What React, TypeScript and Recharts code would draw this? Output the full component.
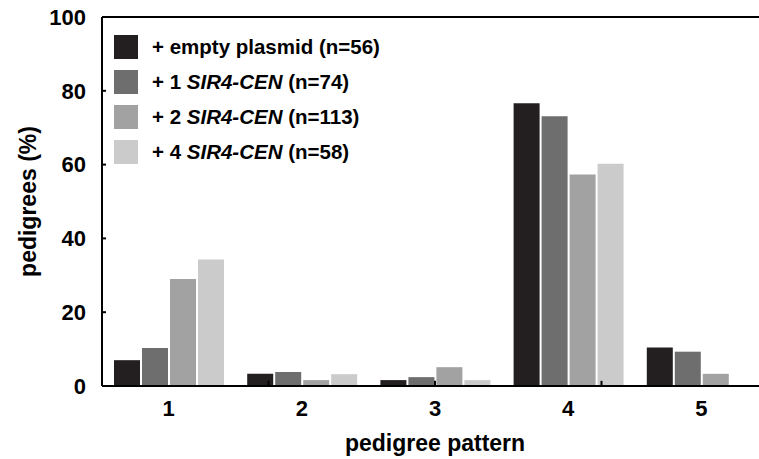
import {
  BarChart,
  Bar,
  XAxis,
  YAxis,
  Legend,
  ReferenceLine,
} from "recharts";

const patterns = ["1", "2", "3", "4", "5"];
const emptyPlasmid = [7.0, 3.3, 1.6, 76.6, 10.4];
const oneSir4 = [10.3, 3.8, 2.4, 73.1, 9.3];
const twoSir4 = [29.0, 1.6, 5.1, 57.3, 3.3];
const fourSir4 = [34.3, 3.2, 1.6, 60.2, null];
const yTicks = [0, 20, 40, 60, 80, 100];
// small inward marks sit between the pattern groups
const boundaryTicks = [1, 2, 3, 4];
const boundaryTickLen = 1.4;

const series = [
  { key: "empty", prefix: "+ empty plasmid", gene: "", n: 56, color: "#231f20" },
  { key: "one", prefix: "+ 1 ", gene: "SIR4-CEN", n: 74, color: "#6e6e6e" },
  { key: "two", prefix: "+ 2 ", gene: "SIR4-CEN", n: 113, color: "#a2a2a2" },
  { key: "four", prefix: "+ 4 ", gene: "SIR4-CEN", n: 58, color: "#cbcbcb" },
];

const data = patterns.map((p, i) => ({
  pattern: p,
  empty: emptyPlasmid[i],
  one: oneSir4[i],
  two: twoSir4[i],
  four: fourSir4[i],
}));

const font = "'Liberation Sans', Arial, Helvetica, sans-serif";

function LegendBox() {
  return (
    <div style={{ fontFamily: font, fontWeight: "bold", fontSize: 20.5, color: "#000" }}>
      {series.map((s) => (
        <div
          key={s.key}
          style={{ display: "flex", alignItems: "center", height: 24, marginBottom: 11 }}
        >
          <span style={{ width: 24, height: 24, background: s.color, marginRight: 14 }} />
          <span style={{ whiteSpace: "pre" }}>
            {s.prefix}
            {s.gene && <i>{s.gene}</i>} (n={s.n})
          </span>
        </div>
      ))}
    </div>
  );
}

export default function App() {
  return (
    <div
      style={{
        position: "absolute",
        left: 0,
        top: 0,
        width: 759,
        height: 459,
        overflow: "hidden",
        background: "#fff",
      }}
    >
      <BarChart
        width={770}
        height={459}
        data={data}
        margin={{ top: 17, right: 2, left: 0, bottom: 0 }}
        barCategoryGap={12}
        barGap={2}
      >
        <XAxis xAxisId="bounds" type="number" domain={[0, 5]} allowDataOverflow hide />
        <XAxis
          dataKey="pattern"
          height={73}
          axisLine={{ stroke: "#000", strokeWidth: 2 }}
          tickLine={false}
          tickSize={0}
          tickMargin={14}
          tick={{ fill: "#000", fontSize: 22, fontWeight: "bold", fontFamily: font }}
          label={{
            value: "pedigree pattern",
            position: "insideBottom",
            offset: 8,
            fill: "#000",
            fontSize: 23,
            fontWeight: "bold",
            fontFamily: font,
          }}
        />
        <YAxis
          width={102}
          domain={[0, 100]}
          ticks={yTicks}
          axisLine={{ stroke: "#000", strokeWidth: 2 }}
          tickLine={{ stroke: "#000", strokeWidth: 2 }}
          tickSize={-4}
          tickMargin={20}
          tick={{ fill: "#000", fontSize: 22, fontWeight: "bold", fontFamily: font }}
          label={{
            value: "pedigrees (%)",
            angle: -90,
            position: "center",
            dx: -23,
            fill: "#000",
            fontSize: 23,
            fontWeight: "bold",
            fontFamily: font,
          }}
        />
        <ReferenceLine y={100} stroke="#000" strokeWidth={2} ifOverflow="visible" />
        {boundaryTicks.map((b) => (
          <ReferenceLine
            key={b}
            xAxisId="bounds"
            segment={[
              { x: b, y: 0 },
              { x: b, y: boundaryTickLen },
            ]}
            stroke="#000"
            strokeWidth={2}
            ifOverflow="visible"
          />
        ))}
        <Legend
          layout="horizontal"
          verticalAlign="middle"
          align="center"
          content={() => <LegendBox />}
          wrapperStyle={{ left: 114, top: 35, width: "auto", height: "auto" }}
        />
        {series.map((s) => (
          <Bar key={s.key} dataKey={s.key} fill={s.color} isAnimationActive={false} />
        ))}
      </BarChart>
    </div>
  );
}
